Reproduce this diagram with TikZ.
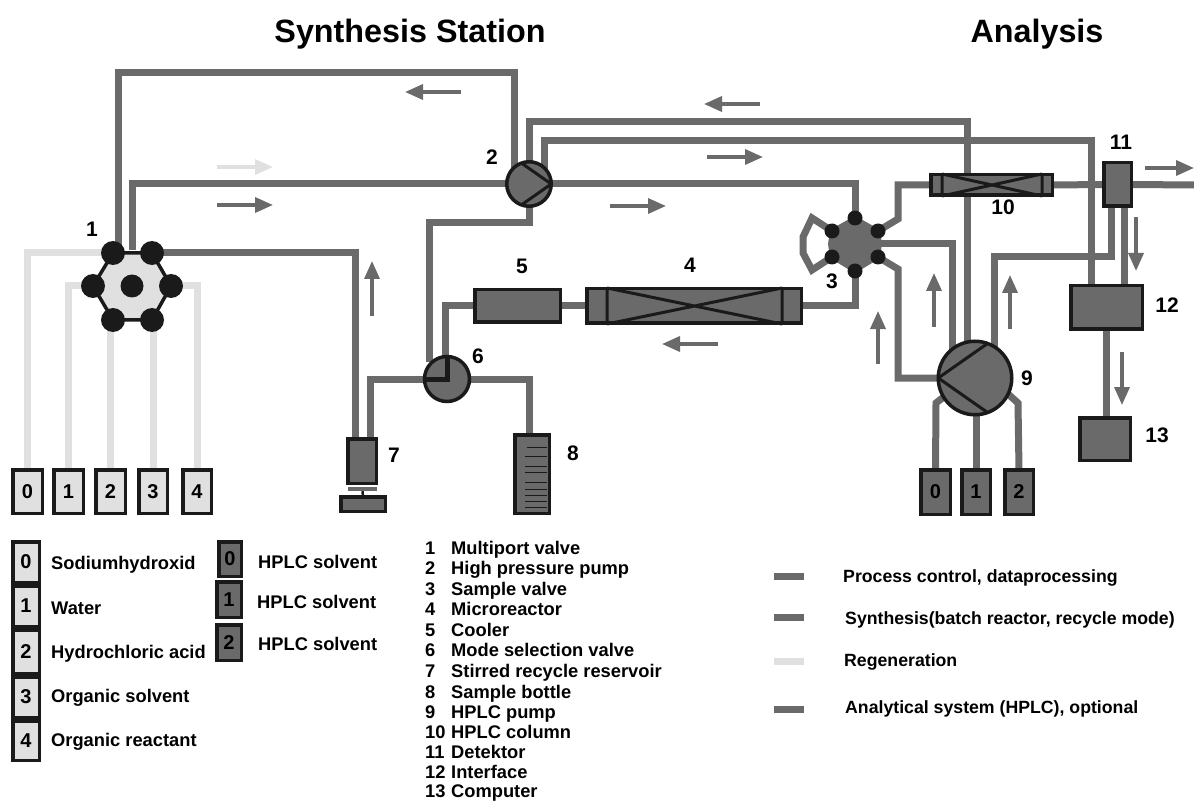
\documentclass[tikz,border=0pt]{standalone}
\usepackage{fontspec}
\setmainfont{Liberation Sans}
\usetikzlibrary{arrows.meta}
\pgfdeclarelayer{pipes}
\pgfsetlayers{pipes,main}
\definecolor{dk}{HTML}{6A6A6A}
\definecolor{lt}{HTML}{E0E0E0}
\definecolor{bk}{HTML}{1A1A1A}
\newcommand{\eqnode}[7]{%
  \pgfmathsetmacro\cxx{(#3+#5)/2}\pgfmathsetmacro\cyy{(#4+#6)/2}%
  \pgfmathsetmacro\www{#5-#3-3.5}\pgfmathsetmacro\hhh{#6-#4-3.5}%
  \node[#2,minimum width=\www pt,minimum height=\hhh pt] (#1) at (\cxx,\cyy) {#7};}
\newcommand{\flowmark}[6][dk]{%
  \coordinate (#2s) at (#3); \coordinate (#2e) at (#4);
  \draw[flow,#1] (#2s) -- (#2e);}
\tikzset{
  eq/.style={draw=bk,line width=3.5pt,fill=#1,rectangle,inner sep=0pt,outer sep=0pt,text=black,
    font=\fontsize{20}{21}\selectfont\bfseries},
  eq/.default=dk,
  pipe/.style={draw=dk,line width=7pt,line join=miter},
  regen/.style={draw=lt,line width=7pt,line join=miter},
  flow/.style={line width=3.5pt,-{Triangle[length=18pt,width=15pt]}},
  dot/.style={circle,fill=bk,inner sep=0pt,outer sep=0pt,minimum size=#1},
  pump/.style={circle,draw=bk,line width=3.5pt,fill=dk,inner sep=0pt,outer sep=0pt,minimum size=#1},
  inner/.style={draw=bk,line width=3pt},
  num/.style={font=\fontsize{21}{22}\selectfont\bfseries,inner sep=0pt,text height=15pt,text depth=0pt},
  item/.style={font=\fontsize{18.3}{20}\selectfont\bfseries,anchor=west,inner sep=0pt,text height=13pt,text depth=0pt},
  proc/.style={font=\fontsize{17.7}{20}\selectfont\bfseries,anchor=west,inner sep=0pt,text height=12.5pt,text depth=0pt},
  heading/.style={font=\fontsize{32.3}{34}\selectfont\bfseries,inner sep=0pt,text height=23pt,text depth=0pt},
  swatch/.style={rectangle,fill=#1,inner sep=0pt,outer sep=0pt,minimum width=30pt,minimum height=7pt},
}
\begin{document}
\begin{tikzpicture}[x=1pt,y=-1pt]
\useasboundingbox (0,0) rectangle (1194,802);
% headings
\node[heading] (hsyn) at (410,31) {Synthesis Station};
\node[heading] (hana) at (1037,31) {Analysis};

% valve 1
\foreach \n/\x/\y in {d1tl/113/253,d1tr/152/253,d1l/93/286,d1r/171/286,d1bl/113/320,d1br/152/320}
  \coordinate (\n) at (\x,\y);
\draw[draw=bk,line width=3.5pt,fill=lt] (d1tl)--(d1tr)--(d1r)--(d1br)--(d1bl)--(d1l)--cycle;
\foreach \n/\x/\y in {n1tl/113/253,n1tr/152/253,n1l/93/286,n1r/171/286,n1bl/113/320,n1br/152/320}
  \node[dot=24pt] (\n) at (\x,\y) {};
\node[dot=23pt] (n1c) at (132,286) {};

% reservoirs
\eqnode{s0}{eq=lt}{11}{468}{44}{515}{0}
\eqnode{s1}{eq=lt}{52}{468}{85}{515}{1}
\eqnode{s2}{eq=lt}{94}{468}{127}{515}{2}
\eqnode{s3}{eq=lt}{137}{468}{169}{515}{3}
\eqnode{s4}{eq=lt}{181}{468}{213}{515}{4}

% pumps and valves
\node[pump=44.5pt] (p2) at (529,184) {};
\draw[inner] (p2.0) -- (p2.110) (p2.0) -- (p2.250);
\node[pump=45pt] (p6) at (447,379) {};
\draw[draw=bk,line width=5pt] (p6.north) -- (p6.center) -- (p6.west);
\node[pump=73.5pt] (p9) at (975,378) {};
\draw[inner] (p9.180) -- (p9.70) (p9.180) -- (p9.290);

% sample valve 3
\foreach \n/\x/\y in {v3t/855/218,v3tr/878/231,v3br/878/257,v3b/855/271,v3bl/832/257,v3tl/832/231}
  \node[dot=15pt] (\n) at (\x,\y) {};
\begin{pgfonlayer}{pipes}
\filldraw[fill=dk,draw=dk,line width=4pt,line join=round] (v3t.center)--(v3tr.center)--(880,244)--(v3br.center)--(v3b.center)--(v3bl.center)--(830,244)--(v3tl.center)--cycle;
\end{pgfonlayer}

% cooler, reactor, column
\eqnode{c5}{eq}{473}{288}{562}{324}{}
\eqnode{r4}{eq}{585}{287}{803}{325}{}
\draw[inner] (607,288)--(607,324) (782,288)--(782,324) (607,288)--(782,324) (607,324)--(782,288);
\eqnode{c10}{eq}{929}{173}{1054}{197}{}
\draw[inner] (942,174)--(942,196) (1042,174)--(1042,196) (942,174)--(1042,196) (942,196)--(1042,174);

% reservoir 7, bottle 8
\eqnode{b7}{eq}{346}{437}{378}{485}{}
\node[rectangle,fill=dk,inner sep=0pt,minimum width=29pt,minimum height=4pt] (b7bar) at (362.5,489) {};
\eqnode{b7base}{eq}{339}{495}{387}{513}{}
\draw[draw=bk,line width=2.5pt] (b7bar.south) -- (b7base.north);
\eqnode{b8}{eq}{513}{433}{551}{515}{}
\foreach \y/\x in {447/527,456/525,466/525,472/525,482/525,489/525,495/525,501/525,507/525}
  \draw[draw=bk,line width=1pt] (\x,\y) -- (547,\y);

% detector etc
\eqnode{d11}{eq}{1102}{161}{1133}{208}{}
\eqnode{b12}{eq}{1069}{284}{1144}{331}{}
\eqnode{b13}{eq}{1078}{416}{1132}{462}{}
\eqnode{a0}{eq}{919}{468}{952}{516}{0}
\eqnode{a1}{eq}{960}{468}{992}{516}{1}
\eqnode{a2}{eq}{1003}{468}{1035}{516}{2}

% ports (free ends of pipes under the symbols)
\coordinate (p1a) at (118,250); \coordinate (p1b) at (132,250);
\coordinate (p2a) at (514,170); \coordinate (p2b) at (544,170);
\coordinate (b7a) at (355,437); \coordinate (b7b) at (370,437);
\coordinate (p6a) at (429,362); \coordinate (p6b) at (445,362);
\coordinate (b8a) at (529,435);
\coordinate (p9a) at (967,350); \coordinate (p9b) at (952,350); \coordinate (p9c) at (994,350);
\coordinate (d11a) at (1111,206); \coordinate (d11b) at (1124,206);
\coordinate (b12a) at (1091,286); \coordinate (b12b) at (1124,286);
\coordinate (out) at (1194,185);
\coordinate (v3m) at (880,244);

\begin{pgfonlayer}{pipes}
  % regeneration
  \draw[regen] (s0.north) |- (n1tl.center);
  \draw[regen] (s1.north) |- (n1l.center);
  \draw[regen] (s2.north) -- (s2.north |- n1bl.center);
  \draw[regen] (s3.north) -- (s3.north |- n1br.center);
  \draw[regen] (s4.north) |- (n1r.center);
  % synthesis
  \draw[pipe] (p1a) -- ++(0,-177) -| (p2a);
  \draw[pipe] (p1b) |- (p2.center);
  \draw[pipe] (p2.center) -| (v3t.center);
  \draw[pipe] (n1tr.center) -| (b7a);
  \draw[pipe] (b7b) |- (p6.center);
  \draw[pipe] (p6a) -- ++(0,-139) -| (p2.center);
  \draw[pipe] (p6b) |- (c5.west);
  \draw[pipe] (c5.east) -- (r4.west);
  \draw[pipe] (r4.east) -| (v3b.center);
  \draw[pipe] (p6.center) -| (b8a);
  % analysis
  \draw[pipe] (p2.center) -- ++(0,-62) -| (p9a);
  \draw[pipe] (p2b) -- ++(0,-29) -| (b12a);
  \draw[pipe] (v3tl.center) -- (812,218) -- (803,237) -- (803,253) -- (812,270) -- (v3bl.center);
  \draw[pipe] (v3tr.center) -- (898,219) |- (c10.west);
  \draw[pipe] (c10.east) -- (d11.west);
  \draw[pipe] (d11.east) -- (out);
  \draw[pipe] (d11a) |- (p9c |- 0,257) -- (p9c);
  \draw[pipe] (d11b) -- (b12b);
  \draw[pipe] (b12.south) -- (b12.south |- b13.north);
  \draw[pipe] (v3m) -| (p9b);
  \draw[pipe] (v3br.center) -- (898,269) |- (p9.center);
  \draw[pipe] (a0.north) -- (936,403) -- (945,396);
  \draw[pipe] (a1.north) -- (a1.north |- p9.south);
  \draw[pipe] (a2.north) -- (1018,403) -- (1008,394);
\end{pgfonlayer}

% flow arrows
\flowmark[lt]{f1}{217,167}{273,167}{}{}
\flowmark{f2}{217,205}{273,205}{}{}
\flowmark{f3}{461,92}{405,92}{}{}
\flowmark{f4}{760,104}{704,104}{}{}
\flowmark{f5}{707,157}{763,157}{}{}
\flowmark{f6}{610,206}{666,206}{}{}
\flowmark{f7}{718,344}{662,344}{}{}
\flowmark{f8}{372,316}{372,261}{}{}
\flowmark{f9}{878,364}{878,311}{}{}
\flowmark{f10}{934,327}{934,273}{}{}
\flowmark{f11}{1010,329}{1010,275}{}{}
\flowmark{f12}{1136,217}{1136,271}{}{}
\flowmark{f13}{1122,352}{1122,405}{}{}
\flowmark{f14}{1145,168}{1194,168}{}{}

% number labels
\foreach \n/\x/\y/\t in {l1/92/229/1,l2/492/157/2,l3/832/281/3,l4/690/265/4,l5/522/266/5,l6/478/356/6,l7/394/455/7,l8/573/453/8,l9/1027/378/9,l10/1003/207/10,l11/1121/142/11,l12/1167/305/12,l13/1157/435/13}
  \node[num] (\n) at (\x,\y) {\t};

% left legend
\eqnode{k0}{eq=lt}{11}{540}{41}{584}{0}
\eqnode{k1}{eq=lt}{11}{584}{41}{628}{1}
\eqnode{k2}{eq=lt}{11}{628}{41}{675}{2}
\eqnode{k3}{eq=lt}{11}{675}{41}{719}{3}
\eqnode{k4}{eq=lt}{11}{719}{41}{762}{4}
\node[item] (t0) at (51,563) {Sodiumhydroxid};
\node[item] (t1) at (51,608) {Water};
\node[item] (t2) at (51,652) {Hydrochloric acid};
\node[item] (t3) at (51,696) {Organic solvent};
\node[item] (t4) at (51,740) {Organic reactant};
\eqnode{h0}{eq}{217}{540}{243}{578}{0}
\eqnode{h1}{eq}{215}{580}{243}{619}{1}
\eqnode{h2}{eq}{215}{623}{243}{662}{2}
\node[item] (th0) at (258,562) {HPLC solvent};
\node[item] (th1) at (257,602) {HPLC solvent};
\node[item] (th2) at (258,644) {HPLC solvent};

% numbered list
\foreach \n/\y/\t in {1/548/Multiport valve,2/568/High pressure pump,3/589/Sample valve,4/609/Microreactor,5/630/Cooler,6/650/Mode selection valve,7/671/Stirred recycle reservoir,8/692/Sample bottle,9/712/HPLC pump,10/732/HPLC column,11/752/Detektor,12/772/Interface,13/791/Computer}{
  \node[item] (ln\n) at (425,\y) {\n};
  \node[item] (lt\n) at (451,\y) {\t};
}

% process legend
\node[swatch=dk] (sw1) at (789,576) {};
\node[swatch=dk] (sw2) at (789,617) {};
\node[swatch=lt] (sw3) at (789,661) {};
\node[swatch=dk] (sw4) at (789,709) {};
\node[proc] (tp1) at (843,576) {Process control, dataprocessing};
\node[proc] (tp2) at (845,618) {Synthesis(batch reactor, recycle mode)};
\node[proc] (tp3) at (844,660) {Regeneration};
\node[proc] (tp4) at (845,707) {Analytical system (HPLC), optional};
\end{tikzpicture}
\end{document}
